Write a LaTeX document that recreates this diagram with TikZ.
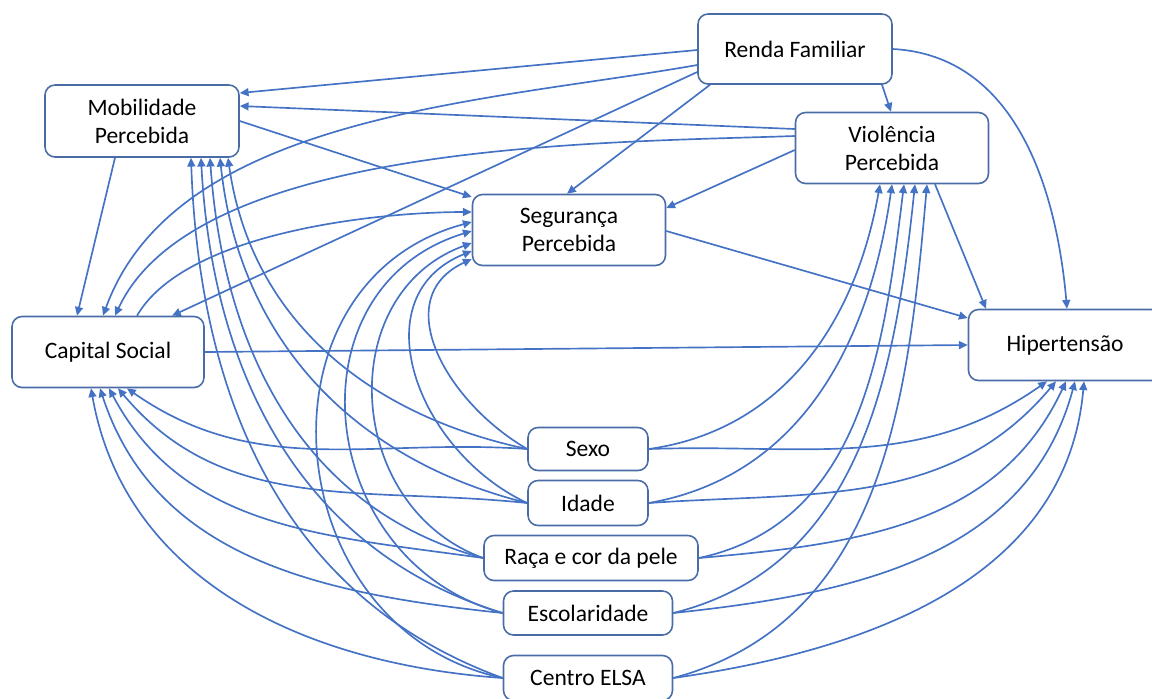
\documentclass[tikz,border=0pt]{standalone}
\usepackage{fontspec}
\setmainfont{Carlito}
\usetikzlibrary{arrows.meta,calc,backgrounds}
\definecolor{edgec}{HTML}{4472C4}
\definecolor{boxc}{HTML}{4A6CA6}
\begin{document}
\begin{tikzpicture}[x=0.02cm,y=0.02cm,
  box/.style={draw=boxc,line width=0.9pt,rounded corners=0.2cm,fill=white,align=center,inner sep=0pt,font=\fontsize{13.4}{16}\selectfont},
  arr/.style={draw=edgec,line width=0.95pt,-{Triangle[length=5pt,width=4.5pt]}}]
\useasboundingbox (0,0) rectangle (1152,-698);
\node[box,minimum width=3.88cm,minimum height=1.40cm] (ren) at (795,-49) {Renda Familiar};
\node[box,minimum width=3.88cm,minimum height=1.44cm] (mob) at (142,-121) {Mobilidade\\Percebida};
\node[box,minimum width=3.86cm,minimum height=1.42cm] (vio) at (892,-148) {Violência\\Percebida};
\node[box,minimum width=3.86cm,minimum height=1.42cm] (seg) at (569,-230) {Segurança\\Percebida};
\node[box,minimum width=3.84cm,minimum height=1.42cm] (cap) at (108,-352) {Capital Social};
\node[box,minimum width=3.86cm,minimum height=1.42cm] (hip) at (1065,-345) {Hipertensão};
\node[box,minimum width=2.40cm,minimum height=0.86cm] (sex) at (588,-449) {Sexo};
\node[box,minimum width=2.40cm,minimum height=0.90cm] (ida) at (588,-503) {Idade};
\node[box,minimum width=4.28cm,minimum height=0.90cm] (rac) at (591,-558) {Raça e cor da pele};
\node[box,minimum width=3.38cm,minimum height=0.88cm] (esc) at (588,-613) {Escolaridade};
\node[box,minimum width=3.38cm,minimum height=0.90cm] (cen) at (588,-678) {Centro ELSA};
\begin{scope}[on background layer]
% Renda Familiar
\draw[arr] ($(ren.west)+(0,-1)$) -- ($(mob.east)+(0,28)$);
\draw[arr] ($(ren.west)+(0,-16)$) to[out=190,in=70,looseness=0.85] ($(cap.north)+(-5,0)$);
\draw[arr] ($(ren.west)+(0,-23)$) -- ($(cap.north)+(64,0)$);
\draw[arr] ($(ren.south)+(-85,0)$) -- ($(seg.north)+(-2,0)$);
\draw[arr] ($(ren.south)+(87,0)$) -- ($(vio.north)+(-1,0)$);
\draw[arr] (ren.east) to[out=-3,in=95] ($(hip.north)+(2,0)$);
% Violencia
\draw[arr] ($(vio.west)+(0,19)$) -- ($(mob.east)+(0,15)$);
\draw[arr] ($(vio.west)+(0,12)$) to[out=182,in=65,looseness=0.7] ($(cap.north)+(7,0)$);
\draw[arr] ($(vio.west)+(0,-2)$) -- ($(seg.east)+(0,22)$);
\draw[arr] ($(vio.south)+(43,0)$) -- ($(hip.north)+(-79,0)$);
% Mobilidade
\draw[arr] (mob.east) -- ($(seg.west)+(0,33)$);
\draw[arr] ($(mob.south)+(-27,0)$) -- ($(cap.north)+(-31,0)$);
% Seguranca
\draw[arr] ($(seg.east)+(0,-1)$) -- ($(hip.west)+(0,27)$);
% Capital Social
\draw[arr] ($(cap.north)+(29,0)$) to[out=60,in=180,looseness=0.7] ($(seg.west)+(0,18)$);
\draw[arr] (cap.east) -- (hip.west);
% Sexo
\draw[arr] (sex.west) to[out=176,in=-35] ($(cap.south)+(19,0)$);
\draw[arr] (sex.west) to[out=168,in=-82] ($(mob.south)+(86,0)$);
\draw[arr] (sex.west) to[out=150,in=205,looseness=1.2] ($(seg.west)+(0,-29)$);
\draw[arr] (sex.east) to[out=8,in=-100] ($(vio.south)+(-12,0)$);
\draw[arr] (sex.east) to[out=2,in=-145] ($(hip.south)+(-18,0)$);
% Idade
\draw[arr] (ida.west) to[out=174,in=-50] ($(cap.south)+(10,0)$);
\draw[arr] (ida.west) to[out=166,in=-84] ($(mob.south)+(78,0)$);
\draw[arr] (ida.west) to[out=155,in=202,looseness=1.2] ($(seg.west)+(0,-21)$);
\draw[arr] (ida.east) to[out=10,in=-98] ($(vio.south)+(0,0)$);
\draw[arr] (ida.east) to[out=4,in=-130] ($(hip.south)+(-9,0)$);
% Raca
\draw[arr] (rac.west) to[out=172,in=-62] ($(cap.south)+(1,0)$);
\draw[arr] (rac.west) to[out=165,in=-86] ($(mob.south)+(68,0)$);
\draw[arr] (rac.west) to[out=160,in=200,looseness=1.2] ($(seg.west)+(0,-13)$);
\draw[arr] (rac.east) to[out=12,in=-97] ($(vio.south)+(12,0)$);
\draw[arr] (rac.east) to[out=5,in=-115] ($(hip.south)+(1,0)$);
% Escolaridade
\draw[arr] (esc.west) to[out=174,in=-72] ($(cap.south)+(-8,0)$);
\draw[arr] (esc.west) to[out=163,in=-87] ($(mob.south)+(59,0)$);
\draw[arr] (esc.west) to[out=165,in=197,looseness=1.3] ($(seg.west)+(0,-1)$);
\draw[arr] (esc.east) to[out=14,in=-96] ($(vio.south)+(23,0)$);
\draw[arr] (esc.east) to[out=6,in=-105] ($(hip.south)+(10,0)$);
% Centro ELSA
\draw[arr] (cen.west) to[out=176,in=-80] ($(cap.south)+(-17,0)$);
\draw[arr] (cen.west) to[out=160,in=-88] ($(mob.south)+(49,0)$);
\draw[arr] (cen.west) to[out=168,in=195,looseness=1.3] ($(seg.west)+(0,8)$);
\draw[arr] (cen.east) to[out=15,in=-95] ($(vio.south)+(35,0)$);
\draw[arr] (cen.east) to[out=8,in=-95] ($(hip.south)+(19,0)$);
\end{scope}
\end{tikzpicture}
\end{document}
